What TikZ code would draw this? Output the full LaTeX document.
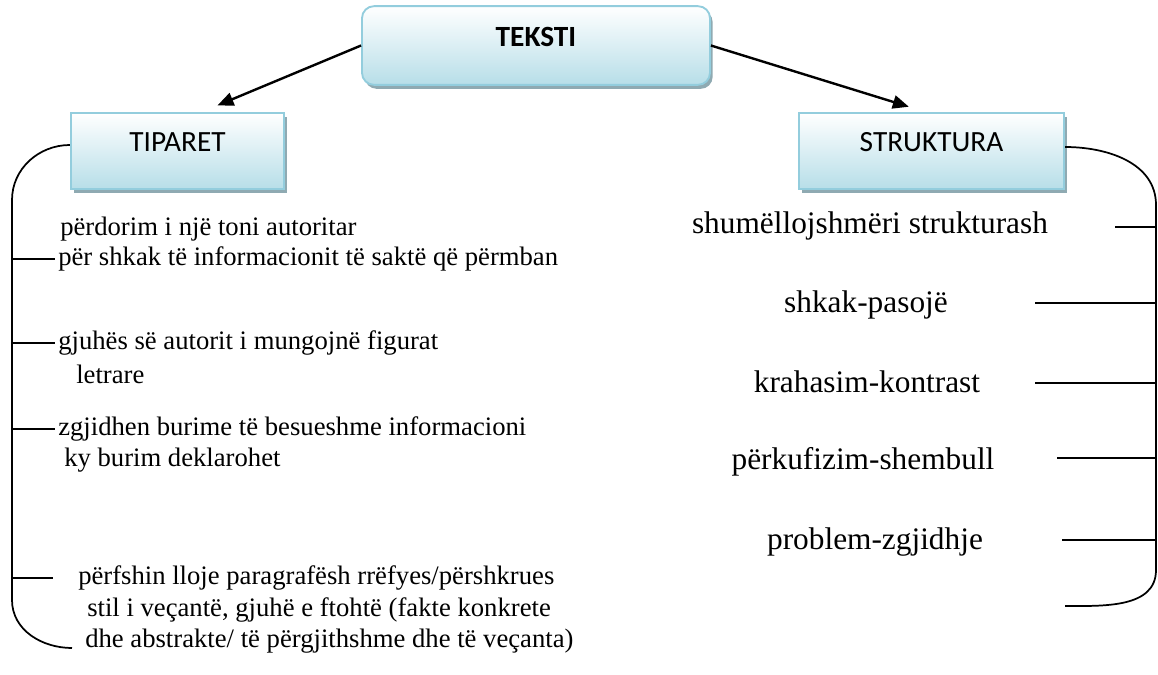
\documentclass[tikz,border=0pt]{standalone}
\usepackage{fontspec}
\setmainfont{Liberation Serif}
\newfontfamily\calibrifont{Carlito}
\usetikzlibrary{arrows.meta, positioning, shadows}
\definecolor{boxedge}{HTML}{93CDDD}
\definecolor{boxfill}{HTML}{B7DEE8}
\definecolor{boxshadow}{HTML}{8FAAB2}

\begin{document}
\begin{tikzpicture}[
	x=0.75pt, y=-0.75pt,
	box/.style={
		rectangle,
		draw=boxedge,
		top color=white,
		bottom color=boxfill,
		line width=1.4pt,
		inner sep=0pt,
		font=\calibrifont\fontsize{22pt}{26pt}\selectfont,
		text height=29pt,
		text depth=28pt,
		drop shadow={shadow xshift=2pt, shadow yshift=-3pt, fill=boxshadow, opacity=1}
	},
	item/.style={inner sep=0pt, anchor=west, font=\fontsize{20pt}{24pt}\selectfont},
	kind/.style={inner sep=0pt, anchor=center, font=\fontsize{23.5pt}{27pt}\selectfont},
	tick/.style={line width=1.1pt},
	bracket/.style={line width=1.3pt},
	arrow/.style={-{Triangle[length=12pt,width=10pt]}, line width=1.8pt}
]
	\useasboundingbox (0,0) rectangle (1158,675);

	\node[box, minimum width=261pt, rounded corners=9pt, text height=30.6pt, text depth=28.4pt, font=\calibrifont\bfseries\fontsize{22pt}{26pt}\selectfont] (teksti) at (536,45.5) {TEKSTI};
	\node[box, minimum width=160pt] (tiparet) at (177.5,151) {TIPARET};
	\node[box, minimum width=199pt] (struktura) at (931.5,151) {STRUKTURA};

	\draw[arrow] (teksti.west) -- ([xshift=30pt, yshift=5pt]tiparet.north);
	\draw[arrow] (teksti.east) -- ([xshift=-17pt, yshift=4pt]struktura.north);

	\node[item] (l1) at (60,229) {përdorim i një toni autoritar};
	\node[item] (l2) at (58,259) {për shkak të informacionit të saktë që përmban};
	\node[item] (l3) at (58,343) {gjuhës së autorit i mungojnë figurat};
	\node[item] (l3b) at (76,374) {letrare};
	\node[item] (l4) at (58,429) {zgjidhen burime të besueshme informacioni};
	\node[item] (l4b) at (64,460) {ky burim deklarohet};
	\node[item] (l5) at (78,578) {përfshin lloje paragrafësh rrëfyes/përshkrues};
	\node[item] (l5b) at (87,610) {stil i veçantë, gjuhë e ftohtë (fakte konkrete};
	\node[item] (l5c) at (85,641) {dhe abstrakte/ të përgjithshme dhe të veçanta)};

	\node[kind] (r1) at (870,226) {shumëllojshmëri strukturash};
	\node[kind] (r2) at (866,305) {shkak-pasojë};
	\node[kind] (r3) at (867,382) {krahasim-kontrast};
	\node[kind] (r4) at (863,462) {përkufizim-shembull};
	\node[kind] (r5) at (875,542) {problem-zgjidhje};

	\coordinate (ltop) at (12,200);
	\coordinate (lbot) at (12,600);
	\coordinate (lend) at (72,648);
	\draw[bracket] ([yshift=4.5pt]tiparet.west) to[out=180, in=90] (ltop) -- (lbot) to[out=-90, in=180] (lend);
	\draw[tick] (l2.west -| ltop) -- ([xshift=-2pt]l2.west);
	\draw[tick] (l3.west -| ltop) -- ([xshift=-2pt]l3.west);
	\draw[tick] (l4.west -| ltop) -- ([xshift=-2pt]l4.west);
	\draw[tick] (l5.west -| ltop) -- ([xshift=-19pt]l5.west);

	\coordinate (rtop) at (1156,205);
	\coordinate (rbot) at (1156,570);
	\coordinate (rend) at (1065,606);
	\draw[bracket] ([yshift=3pt]struktura.east) to[out=0, in=90] (rtop) -- (rbot) to[out=-90, in=0] (rend);
	\foreach \i/\x/\y in {1/1115/227, 2/1035/303, 3/1035/383, 4/1057/458, 5/1062/540} {
		\coordinate (rs\i) at (\x,\y);
		\draw[tick] (rs\i) -- (rs\i -| rtop);
	}

\end{tikzpicture}
\end{document}
